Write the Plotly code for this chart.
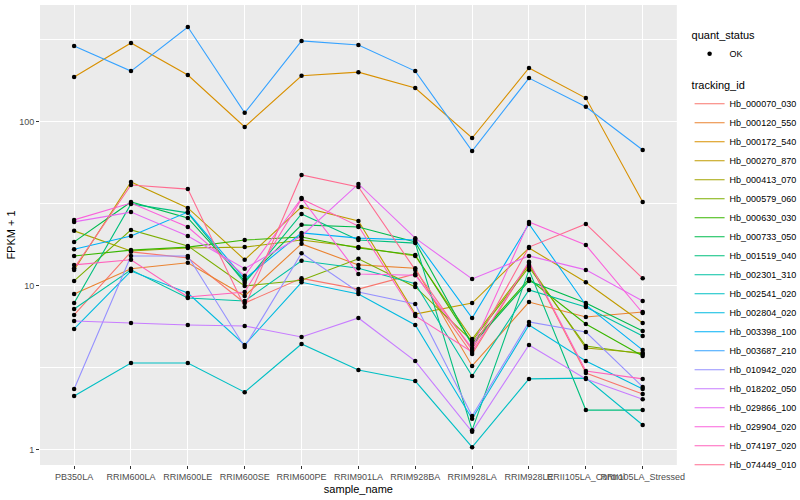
import plotly.graph_objects as go

samples = ["PB350LA", "RRIM600LA", "RRIM600LE", "RRIM600SE", "RRIM600PE", "RRIM901LA",
           "RRIM928BA", "RRIM928LA", "RRIM928LE", "RRII105LA_Control", "RRII105LA_Stressed"]

# FPKM + 1 values per tracking id, one value per sample
Hb_000070_030 = [6.64, 16.1, 14.8, 7.85, 11.1, 9.55, 11.8, 3.84, 13.8, 2.94, 2.19]
Hb_000120_550 = [8.91, 12.7, 13.8, 8.67, 18.0, 13.4, 12.8, 3.25, 7.96, 6.46, 6.92]
Hb_000172_540 = [187, 301, 192, 92.7, 190, 200, 160, 79.4, 212, 139, 32.4]
Hb_000270_870 = [12.5, 42.9, 29.8, 14.4, 30.2, 24.8, 6.73, 7.85, 17.0, 10.5, 5.93]
Hb_000413_070 = [21.6, 16.3, 17.0, 17.2, 19.0, 17.2, 15.2, 4.74, 13.4, 4.18, 3.90]
Hb_000579_060 = [10.7, 21.9, 17.5, 9.97, 10.8, 14.6, 9.84, 4.61, 13.0, 4.30, 3.84]
Hb_000630_030 = [15.2, 16.5, 17.2, 19.0, 19.8, 17.0, 15.4, 4.48, 11.0, 5.85, 3.74]
Hb_000733_050 = [18.5, 32.4, 25.9, 10.7, 23.5, 22.8, 18.5, 4.36, 10.7, 7.85, 5.31]
Hb_001519_040 = [7.85, 31.5, 27.8, 10.4, 27.4, 19.0, 18.2, 1.32, 12.5, 1.75, 1.75]
Hb_002301_310 = [7.22, 12.5, 8.43, 8.08, 14.2, 12.8, 10.3, 2.82, 9.43, 7.43, 4.94]
Hb_002541_020 = [2.13, 3.39, 3.39, 2.25, 4.42, 3.07, 2.63, 1.04, 2.71, 2.74, 1.42]
Hb_002804_020 = [5.46, 12.3, 9.04, 4.36, 10.5, 8.91, 5.77, 1.55, 5.77, 3.48, 2.35]
Hb_003398_100 = [16.7, 20.1, 28.1, 11.0, 21.0, 19.5, 19.0, 6.37, 23.8, 7.64, 4.06]
Hb_003687_210 = [289, 203, 377, 113, 310, 293, 203, 66.2, 184, 123, 67.1]
Hb_010942_020 = [2.35, 15.2, 15.2, 4.24, 15.8, 9.17, 7.74, 1.61, 6.02, 5.23, 2.42]
Hb_018202_050 = [6.10, 5.93, 5.77, 5.69, 4.88, 6.37, 3.48, 1.29, 4.36, 2.71, 2.04]
Hb_029866_100 = [24.5, 28.1, 20.1, 12.7, 20.1, 41.7, 19.5, 11.0, 15.2, 12.5, 8.08]
Hb_029904_020 = [25.2, 31.9, 22.8, 11.5, 34.2, 11.8, 11.6, 4.18, 24.5, 17.7, 6.83]
Hb_074197_020 = [13.4, 14.4, 8.55, 9.17, 33.8, 23.1, 6.55, 3.95, 14.0, 3.03, 2.71]
Hb_074449_010 = [12.8, 41.1, 38.8, 7.43, 47.3, 40.0, 12.5, 4.06, 17.2, 23.8, 11.1]

tracking_ids = ["Hb_000070_030", "Hb_000120_550", "Hb_000172_540", "Hb_000270_870",
                "Hb_000413_070", "Hb_000579_060", "Hb_000630_030", "Hb_000733_050",
                "Hb_001519_040", "Hb_002301_310", "Hb_002541_020", "Hb_002804_020",
                "Hb_003398_100", "Hb_003687_210", "Hb_010942_020", "Hb_018202_050",
                "Hb_029866_100", "Hb_029904_020", "Hb_074197_020", "Hb_074449_010"]
series_values = [Hb_000070_030, Hb_000120_550, Hb_000172_540, Hb_000270_870,
                 Hb_000413_070, Hb_000579_060, Hb_000630_030, Hb_000733_050,
                 Hb_001519_040, Hb_002301_310, Hb_002541_020, Hb_002804_020,
                 Hb_003398_100, Hb_003687_210, Hb_010942_020, Hb_018202_050,
                 Hb_029866_100, Hb_029904_020, Hb_074197_020, Hb_074449_010]

colors = ["#F8766D", "#EA8331", "#D89000", "#C09B00", "#A3A500", "#7CAE00", "#39B600",
          "#00BB4E", "#00BF7D", "#00C1A3", "#00BFC4", "#00BAE0", "#00B0F6", "#35A2FF",
          "#9590FF", "#C77CFF", "#E76BF3", "#FA62DB", "#FF62BC", "#FF6C91"]

FONT = "Liberation Sans, Arial, sans-serif"

fig = go.Figure()
for name, vals, col in zip(tracking_ids, series_values, colors):
    fig.add_trace(go.Scatter(x=samples, y=vals, mode="lines", name=name,
                             line=dict(color=col, width=1.1), legend="legend2",
                             hoverinfo="skip"))

all_x, all_y = [], []
for vals in series_values:
    all_x += samples
    all_y += vals
fig.add_trace(go.Scatter(x=all_x, y=all_y, mode="markers", name="OK",
                         marker=dict(color="black", size=4.5), legend="legend"))

fig.update_layout(
    width=800, height=500,
    margin=dict(l=40, r=116, t=5, b=35),
    paper_bgcolor="white", plot_bgcolor="#EBEBEB",
    font=dict(family=FONT, size=9, color="#4D4D4D"),
    showlegend=True,
    legend=dict(xref="container", yref="container", x=0.862, y=0.95,
                xanchor="left", yanchor="top", itemwidth=30,
                title=dict(text="quant_status", font=dict(size=11, color="black")),
                font=dict(size=9, color="black"), bgcolor="rgba(0,0,0,0)"),
    legend2=dict(xref="container", yref="container", x=0.862, y=0.85,
                 xanchor="left", yanchor="top", itemwidth=30, maxheight=430,
                 title=dict(text="tracking_id", font=dict(size=11, color="black")),
                 font=dict(size=9, color="black"), bgcolor="rgba(0,0,0,0)"),
)

fig.update_xaxes(
    type="category", range=[-0.6, 10.6], categoryorder="array", categoryarray=samples,
    showgrid=True, gridcolor="white", gridwidth=1.1, zeroline=False,
    ticks="outside", ticklen=3, tickcolor="#333333", tickangle=0,
    tickfont=dict(size=9, color="#4D4D4D"),
    title=dict(text="sample_name", font=dict(size=11, color="black"), standoff=4),
)
fig.update_yaxes(
    type="log", range=[-0.0914, 2.710],
    tickvals=[1, 10, 100], ticktext=["1", "10", "100"],
    showgrid=True, gridcolor="white", gridwidth=1.1, zeroline=False,
    ticks="outside", ticklen=3, tickcolor="#333333",
    tickfont=dict(size=9, color="#4D4D4D"),
    minor=dict(tickvals=[3.1623, 31.623, 316.23], showgrid=True, gridcolor="white",
               gridwidth=0.5, ticklen=0),
    title=dict(text="FPKM + 1", font=dict(size=11, color="black"), standoff=1),
)

fig.write_html("out.html", config={"displayModeBar": False},
               post_script="document.body.style.margin='0';")
